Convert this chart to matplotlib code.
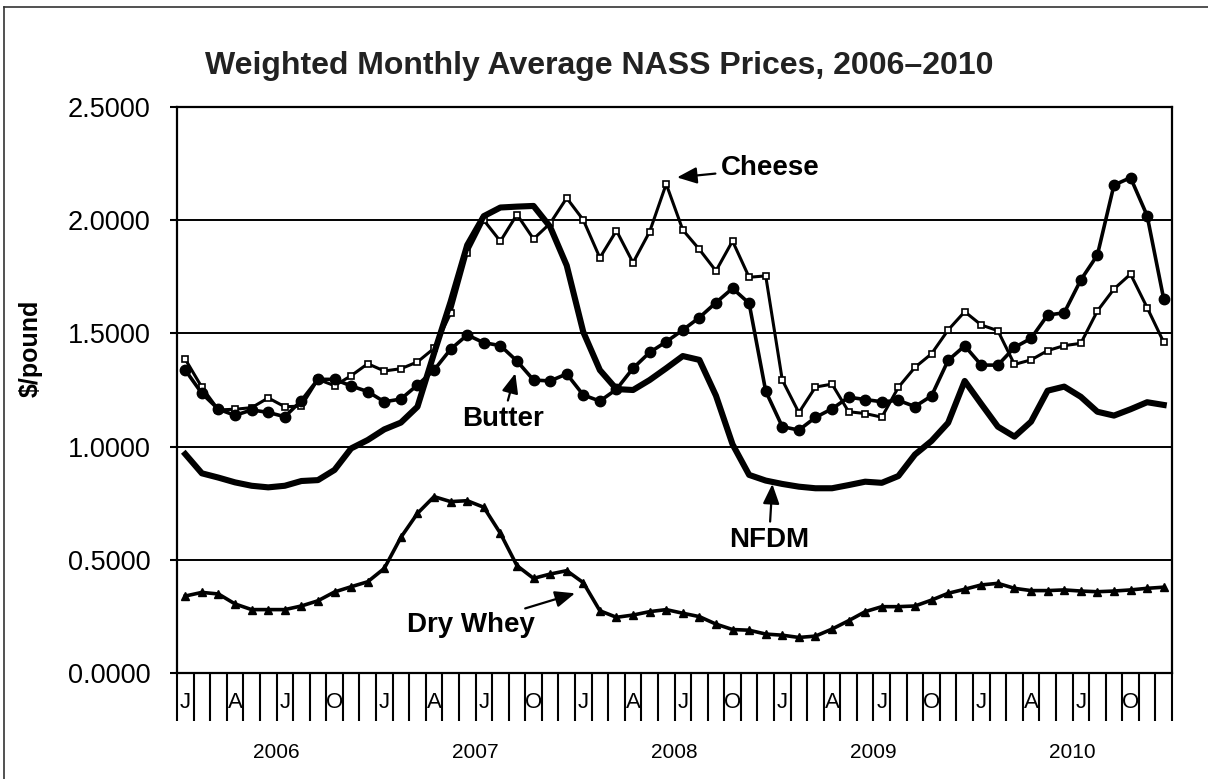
"""
plot.py
Weighted monthly average NASS dairy product prices, Jan 2006 - Dec 2010.
Output: out.png
"""

import numpy as np
import matplotlib
matplotlib.use("Agg")
import matplotlib.pyplot as plt
from matplotlib.lines import Line2D

plt.rcParams["font.family"] = ["Liberation Sans", "DejaVu Sans"]

YEARS = ["2006", "2007", "2008", "2009", "2010"]
QUARTER_LETTERS = ["J", "A", "J", "O"]

# $/pound, one value per month, Jan 2006 .. Dec 2010
CHEESE = [
    1.386, 1.262, 1.162, 1.165, 1.172, 1.215, 1.176, 1.179, 1.297, 1.269, 1.313, 1.366,
    1.334, 1.344, 1.374, 1.434, 1.589, 1.855, 2.000, 1.907, 2.025, 1.917, 1.986, 2.098,
    2.001, 1.834, 1.954, 1.812, 1.949, 2.160, 1.957, 1.871, 1.776, 1.908, 1.748, 1.754,
    1.294, 1.150, 1.263, 1.276, 1.154, 1.146, 1.130, 1.262, 1.350, 1.410, 1.515, 1.596,
    1.537, 1.512, 1.363, 1.383, 1.424, 1.446, 1.456, 1.599, 1.696, 1.762, 1.614, 1.461,
]
BUTTER = [
    1.338, 1.235, 1.165, 1.138, 1.162, 1.151, 1.132, 1.203, 1.297, 1.297, 1.268, 1.243,
    1.198, 1.210, 1.272, 1.338, 1.430, 1.493, 1.459, 1.446, 1.378, 1.294, 1.290, 1.321,
    1.228, 1.201, 1.253, 1.346, 1.416, 1.463, 1.515, 1.570, 1.636, 1.699, 1.633, 1.245,
    1.088, 1.073, 1.129, 1.167, 1.218, 1.208, 1.198, 1.204, 1.177, 1.224, 1.381, 1.445,
    1.360, 1.360, 1.438, 1.478, 1.581, 1.591, 1.736, 1.846, 2.155, 2.188, 2.020, 1.652,
]
NFDM = [
    0.967, 0.882, 0.863, 0.842, 0.827, 0.820, 0.827, 0.848, 0.852, 0.897, 0.992, 1.029,
    1.076, 1.106, 1.176, 1.412, 1.640, 1.890, 2.018, 2.056, 2.060, 2.063, 1.971, 1.800,
    1.506, 1.338, 1.254, 1.250, 1.294, 1.346, 1.400, 1.383, 1.225, 1.010, 0.875, 0.850,
    0.835, 0.823, 0.816, 0.816, 0.830, 0.845, 0.840, 0.870, 0.965, 1.025, 1.105, 1.290,
    1.188, 1.088, 1.044, 1.110, 1.247, 1.265, 1.220, 1.154, 1.137, 1.165, 1.196, 1.184,
]
DRY_WHEY = [
    0.340, 0.356, 0.349, 0.305, 0.280, 0.280, 0.280, 0.296, 0.319, 0.358, 0.381, 0.403,
    0.462, 0.599, 0.705, 0.779, 0.757, 0.761, 0.732, 0.617, 0.474, 0.418, 0.437, 0.452,
    0.399, 0.275, 0.246, 0.256, 0.271, 0.280, 0.264, 0.249, 0.216, 0.192, 0.189, 0.172,
    0.167, 0.157, 0.163, 0.194, 0.231, 0.271, 0.293, 0.293, 0.296, 0.322, 0.352, 0.370,
    0.389, 0.396, 0.374, 0.364, 0.364, 0.367, 0.362, 0.359, 0.362, 0.367, 0.374, 0.379,
]

N_MONTHS = len(CHEESE)
W, H = 1208, 779


def draw_series(ax, x):
    ax.plot(x, CHEESE, color="black", lw=2.2, marker="s", ms=4.8,
            mfc="white", mec="black", mew=1.2, zorder=3)
    ax.plot(x, BUTTER, color="black", lw=2.6, marker="o", ms=7.5, zorder=4)
    ax.plot(x, DRY_WHEY, color="black", lw=2.6, marker="^", ms=5.5, zorder=4)
    ax.plot(x, NFDM, color="black", lw=4.4, solid_joinstyle="round", zorder=5)


def label_series(ax):
    arrow = dict(arrowstyle="-|>,head_length=0.6,head_width=0.25",
                 color="black", lw=1.6, shrinkA=2, shrinkB=0)
    font = dict(fontsize=20, fontweight="bold")
    ax.annotate("Cheese", xy=(29.65, 2.189), xytext=(32.3, 2.230),
                ha="left", va="center", arrowprops=arrow, **font)
    ax.annotate("Butter", xy=(19.9, 1.324), xytext=(19.15, 1.122),
                ha="center", va="center", arrowprops=arrow, **font)
    ax.annotate("NFDM", xy=(35.4, 0.835), xytext=(35.2, 0.587),
                ha="center", va="center", arrowprops=arrow, **font)
    ax.annotate("Dry Whey", xy=(23.5, 0.352), xytext=(17.2, 0.212),
                ha="center", va="center", arrowprops=arrow, **font)


def category_axis(ax):
    # month boundaries (short) and year boundaries (long)
    ax.set_xticks(np.arange(-0.5, N_MONTHS, 1))
    ax.set_xticks(np.arange(-0.5, N_MONTHS + 1, 12), minor=True)
    ax.set_xticklabels([])
    ax.tick_params(axis="x", which="major", direction="out", length=34.6,
                   width=1.5, color="black")
    ax.tick_params(axis="x", which="minor", direction="out", length=68.4,
                   width=1.5, color="black")
    trans = ax.get_xaxis_transform()
    for i in range(0, N_MONTHS, 3):
        ax.text(i, -0.053, QUARTER_LETTERS[(i % 12) // 3], transform=trans,
                ha="center", va="center", fontsize=16)
    for k, yr in enumerate(YEARS):
        ax.text(12 * k + 5.5, -0.141, yr, transform=trans,
                ha="center", va="center", fontsize=15)


def main():
    fig = plt.figure(figsize=(W / 100, H / 100), dpi=100, facecolor="white")
    ax = fig.add_axes([177 / W, 1 - 673 / H, (1172 - 177) / W, (673 - 107) / H])

    x = np.arange(N_MONTHS)
    draw_series(ax, x)
    label_series(ax)

    ax.set_xlim(-0.5, N_MONTHS - 0.5)
    ax.set_ylim(0, 2.5)
    ax.set_yticks(np.arange(0, 2.51, 0.5))
    ax.set_yticklabels([f"{v:.4f}" for v in np.arange(0, 2.51, 0.5)], fontsize=19.5)
    ax.tick_params(axis="y", direction="out", length=5, width=1.5, pad=14)
    ax.yaxis.grid(True, color="black", lw=1.4)
    ax.set_axisbelow(True)
    for sp in ax.spines.values():
        sp.set_linewidth(1.6)

    ax.set_ylabel("$/pound", fontsize=18, fontweight="bold")
    ax.yaxis.set_label_coords((43 - 177) / 995, (673 - 348) / 566)

    category_axis(ax)

    fig.text(599 / W, 1 - 66 / H, "Weighted Monthly Average NASS Prices, 2006\u20132010",
             ha="center", va="center", fontsize=23, fontweight="bold", color="#222222")

    # outer chart border (left and top edges only fall inside the picture)
    fig.add_artist(Line2D([4 / W, 4 / W], [0, 1 - 7 / H], color="#333333", lw=1.2))
    fig.add_artist(Line2D([4 / W, 1], [1 - 7 / H, 1 - 7 / H], color="#333333", lw=1.2))

    fig.savefig("out.png", dpi=100)
    plt.close(fig)


if __name__ == "__main__":
    main()
